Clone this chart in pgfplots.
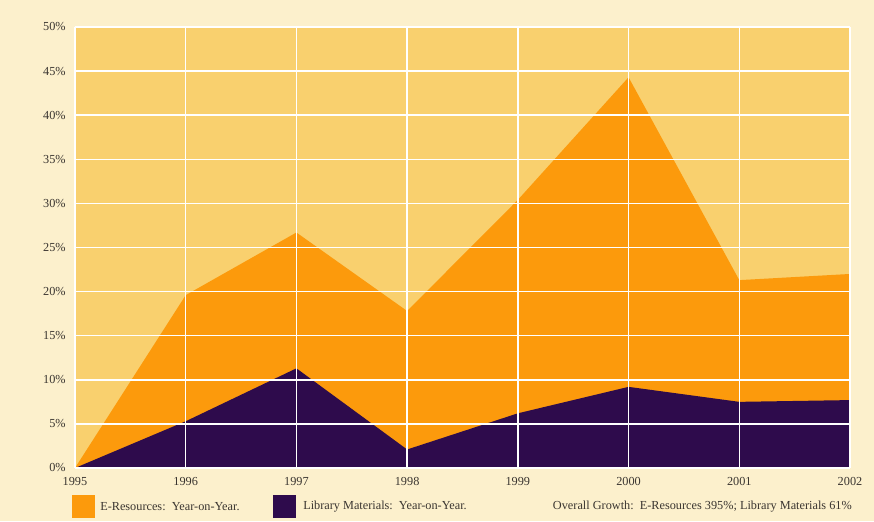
\documentclass[border=0pt]{standalone}
\usepackage{pgfplots}
\pgfplotsset{compat=1.18}
\usepackage{fontspec}
\setmainfont{Liberation Serif}
\definecolor{cream}{HTML}{FCF0CC}
\definecolor{plotbg}{HTML}{F9D06E}
\definecolor{eres}{HTML}{FC9A0C}
\definecolor{libm}{HTML}{2E0B4C}
\definecolor{txt}{HTML}{3A3530}
\begin{document}
\begin{tikzpicture}[x=0.75pt,y=0.75pt]
\fill[cream] (0,0) rectangle (874,521);
\begin{axis}[
  at={(56.25pt,39.75pt)}, anchor=south west,
  scale only axis, width=581.25pt, height=330.75pt,
  xmin=1995, xmax=2002, ymin=0, ymax=50,
  xtick={1995,1996,...,2002},
  ytick={0,5,...,50},
  yticklabel={\pgfmathprintnumber{\tick}\%},
  x tick label style={/pgf/number format/1000 sep={}},
  /pgf/number format/assume math mode=true,
  axis background/.style={fill=plotbg},
  axis line style={draw=none},
  tick style={draw=none},
  grid=major,
  major grid style={white, line width=1.1pt},
  axis on top,
  ticklabel style={font=\fontsize{9.2}{10}\selectfont, text=txt},
  xticklabel style={yshift=-3.5pt},
  yticklabel style={xshift=-3.5pt},
]
\addplot[fill=eres, draw=none] coordinates {
(1995,0) (1996,19.6) (1997,26.7) (1998,17.8) (1999,30.4) (2000,44.3) (2001,21.3) (2002,22.0)} \closedcycle;
\addplot[fill=libm, draw=none] coordinates {
(1995,0) (1996,5.3) (1997,11.3) (1998,2.1) (1999,6.2) (2000,9.2) (2001,7.5) (2002,7.7)} \closedcycle;
\end{axis}
\fill[eres] (72,26) rectangle (95,3);
\fill[libm] (273,26) rectangle (296,3);
\node[anchor=west, text=txt, font=\fontsize{9.2}{10}\selectfont, inner sep=0] at (100,14.5) {E-Resources:\ \ Year-on-Year.};
\node[anchor=west, text=txt, font=\fontsize{9.2}{10}\selectfont, inner sep=0] at (303,14.5) {Library Materials:\ \ Year-on-Year.};
\node[anchor=east, text=txt, font=\fontsize{9.2}{10}\selectfont, inner sep=0] at (852,14.5) {Overall Growth:\ \ E-Resources 395\%; Library Materials 61\%};
\end{tikzpicture}
\end{document}
